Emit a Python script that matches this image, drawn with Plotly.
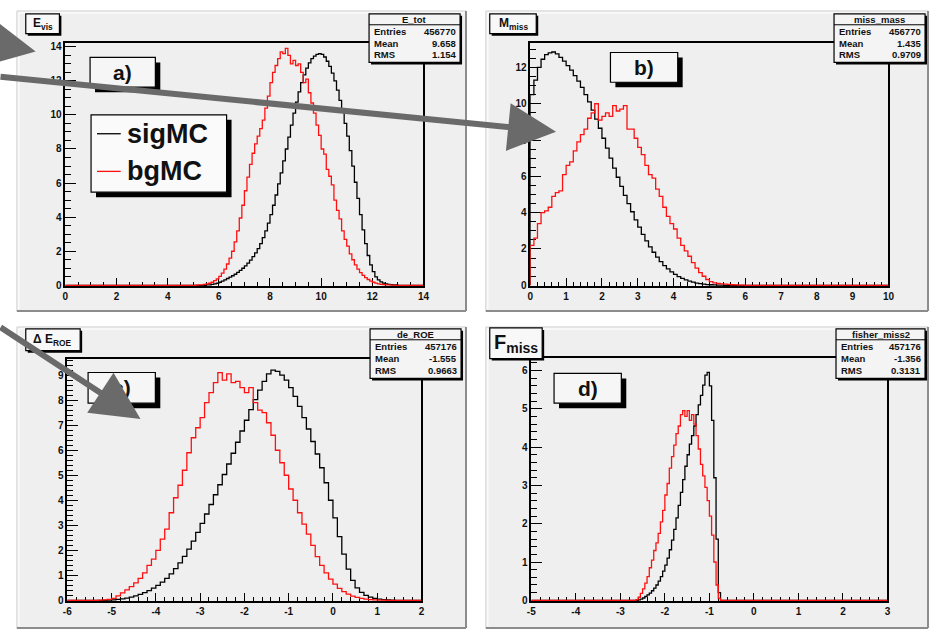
import plotly.graph_objects as go

W, H = 936, 639

# ---------------- data ----------------
# panel a) E_vis  (bins of 0.1 starting at 5.0)
a_start, a_width = 5.0, 0.1
a_sig = [0, 0, 0, 0, 0, 0.02, 0.03, 0.05, 0.08, 0.12,
         0.18, 0.25, 0.32, 0.40, 0.48, 0.56, 0.65, 0.76, 0.88, 1.0,
         1.14, 1.3, 1.48, 1.68, 1.9, 2.15, 2.45, 2.8, 3.2, 3.65,
         4.15, 4.7, 5.3, 5.95, 6.6, 7.3, 8.0, 8.7, 9.4, 10.1,
         10.75, 11.35, 11.9, 12.35, 12.75, 13.05, 13.3, 13.45, 13.55, 13.6,
         13.55, 13.4, 13.15, 12.85, 12.45, 12.0, 11.45, 10.85, 10.2, 9.5,
         8.75, 7.9, 7.0, 6.05, 5.1, 4.15, 3.25, 2.45, 1.75, 1.2,
         0.8, 0.5, 0.32, 0.2, 0.13, 0.09, 0.06, 0.04, 0.03, 0.02]
a_bg = [0, 0.01, 0.02, 0.03, 0.05, 0.08, 0.12, 0.18, 0.27, 0.38,
        0.52, 0.72, 0.95, 1.25, 1.6, 2.0, 2.55, 3.2, 3.95, 4.7,
        5.55, 6.35, 7.1, 7.75, 8.3, 8.75, 9.2, 9.7, 10.4, 11.1,
        11.9, 12.5, 12.9, 13.3, 13.7, 13.6, 13.9, 13.5, 13.0, 13.2,
        12.9, 13.0, 12.5, 11.9, 12.1, 11.3, 10.7, 10.1, 9.4, 8.8,
        8.0, 7.7, 6.8, 6.4, 5.9, 5.0, 4.4, 3.9, 3.2, 2.7,
        2.3, 1.85, 1.5, 1.2, 0.95, 0.75, 0.58, 0.45, 0.34, 0.25,
        0.18, 0.13, 0.09, 0.06, 0.04, 0.03, 0.02, 0.01, 0.01, 0]

# panel b) M_miss  (bins of 0.1 starting at 0)
b_start, b_width = 0.0, 0.1
b_sig = [10.5, 11.3, 12.0, 12.45, 12.7, 12.8, 12.85, 12.75, 12.55, 12.35,
         12.1, 11.85, 11.55, 11.25, 10.9, 10.5, 10.1, 9.65, 9.15, 8.65,
         8.1, 7.55, 7.0, 6.45, 5.95, 5.45, 4.95, 4.5, 4.05, 3.6,
         3.2, 2.8, 2.45, 2.12, 1.82, 1.55, 1.3, 1.08, 0.9, 0.74,
         0.6, 0.48, 0.38, 0.3, 0.23, 0.17, 0.12, 0.09, 0.06, 0.04,
         0.03, 0.02, 0.01, 0.01, 0, 0, 0, 0, 0, 0]
b_bg = [2.2, 2.6, 3.4, 4.0, 4.1, 4.3, 4.9, 5.1, 5.2, 6.1,
        6.6, 6.8, 7.4, 7.9, 8.3, 8.6, 9.2, 9.5, 10.0, 9.1,
        9.3, 9.5, 9.3, 9.9, 9.6, 9.7, 9.9, 8.6, 8.6, 8.1,
        7.6, 7.2, 6.6, 6.1, 5.9, 5.3, 4.9, 4.3, 3.8, 3.4,
        3.1, 2.6, 2.2, 1.9, 1.6, 1.25, 0.95, 0.7, 0.5, 0.32,
        0.2, 0.13, 0.1, 0.08, 0.06, 0.05, 0.03, 0.02, 0.01, 0.01]

# panel c) Delta E_ROE  (bins of 0.1 starting at -5.5)
c_start, c_width = -5.5, 0.1
c_sig = [0, 0, 0, 0, 0.01, 0.02, 0.04, 0.06, 0.09, 0.13,
         0.18, 0.24, 0.31, 0.39, 0.49, 0.6, 0.73, 0.88, 1.06, 1.27,
         1.5, 1.76, 2.05, 2.37, 2.72, 3.08, 3.45, 3.83, 4.22, 4.62,
         5.03, 5.45, 5.88, 6.32, 6.77, 7.2, 7.62, 8.02, 8.4, 8.75,
         9.05, 9.2, 9.15, 9.0, 8.8, 8.5, 8.15, 7.75, 7.3, 6.85,
         6.35, 5.85, 5.3, 4.7, 4.0, 3.3, 2.55, 1.85, 1.25, 0.8,
         0.5, 0.32, 0.2, 0.13, 0.08, 0.05, 0.03, 0.02, 0.01, 0]
c_bg = [0, 0, 0.01, 0.02, 0.04, 0.08, 0.18, 0.3, 0.42, 0.55,
        0.7, 0.88, 1.1, 1.4, 1.65, 2.0, 2.45, 2.85, 3.5, 4.1,
        4.6, 5.2, 5.9, 6.5, 6.9, 7.3, 7.9, 8.3, 8.7, 9.1,
        8.8, 9.05, 8.7, 8.75, 8.5, 8.3, 8.5, 7.9, 7.6, 7.5,
        7.1, 6.6, 6.0, 5.5, 5.0, 4.45, 4.0, 3.5, 3.05, 2.65,
        2.2, 1.75, 1.4, 1.1, 0.85, 0.65, 0.48, 0.35, 0.25, 0.17,
        0.12, 0.08, 0.05, 0.03, 0.02, 0.01, 0.01, 0, 0, 0]

# panel d) F_miss  (bins of 0.05 starting at -2.7)
d_start, d_width = -2.7, 0.05
d_sig = [0, 0, 0.01, 0.03, 0.06, 0.1, 0.14, 0.19, 0.25, 0.32,
         0.4, 0.5, 0.62, 0.76, 0.92, 1.1, 1.32, 1.57, 1.85, 2.15,
         2.48, 2.82, 3.15, 3.5, 3.8, 4.08, 4.3, 4.55, 4.85, 5.1,
         5.35, 5.62, 5.88, 5.95, 5.6, 4.7, 3.2, 1.6, 0.2]
d_bg = [0, 0.02, 0.08, 0.18, 0.3, 0.45, 0.62, 0.85, 1.05, 1.3,
        1.5, 1.75, 2.05, 2.35, 2.75, 3.05, 3.45, 3.75, 4.05, 4.35,
        4.55, 4.85, 4.95, 4.8, 4.95, 4.7, 4.85, 4.6, 4.3, 3.95,
        3.55, 3.25, 2.95, 2.6, 2.2, 1.7, 1.0, 0.4, 0.05]

# axis ranges and tick labels
x_ranges = [(0, 14), (0, 10), (-6, 2), (-5, 3)]
x_dticks = [2, 1, 1, 1]
x_minor = [0.5, 0.2, 0.2, 0.2]
c_xticks = [-6, -5, -4, -3, -2, -1, 0, 1, 2]
c_xlabels = ["-6", "-5", "-4", "-3", "-2", "-1", "0", "1", "2"]
d_xticks = [-5, -4, -3, -2, -1, 0, 1, 2, 3]
d_xlabels = ["-5", "-4", "-3", "-2", "-1", "0", "1", "2", "3"]
y_dticks = [2, 2, 1, 1]
y_minor = [0.5, 0.5, 0.2, 0.2]

# text content
panel_titles = ["E<sub>vis</sub>", "M<sub>miss</sub>", "Δ E<sub>ROE</sub>", "F<sub>miss</sub>"]
panel_labels = ["a)", "b)", "c)", "d)"]
stat_names = ["E_tot", "miss_mass", "de_ROE", "fisher_miss2"]
stat_entries = ["456770", "456770", "457176", "457176"]
stat_means = ["9.658", "1.435", "-1.555", "-1.356"]
stat_rms = ["1.154", "0.9709", "0.9663", "0.3131"]
legend_names = ["sigMC", "bgMC"]

# ---------------- geometry (pixels) ----------------
FONT = "Liberation Sans"
SIG_COLOR = "black"
BG_COLOR = "#ff1010"
PAD_COLOR = "#efefef"
ARROW_COLOR = "#6a6a6a"

def px(x):
    return x / W

def py(y):
    return 1 - y / H

frames = [
    dict(x0=62, x1=424, y0=287, ytop=42, ppu=17.2),
    dict(x0=532, x1=894, y0=287, ytop=42, ppu=18.33),
    dict(x0=64, x1=422, y0=605, ytop=361, ppu=25.25),
    dict(x0=533, x1=893, y0=605, ytop=360, ppu=38.67),
]
pads = [(13, 10, 467, 313), (487, 10, 934, 313), (13, 329, 467, 633), (487, 329, 934, 633)]
stat_boxes = [(369, 13, 461, 62), (839, 13, 931, 62), (370, 331, 462, 381), (841, 331, 931, 381)]
title_boxes = [(22, 13, 56, 33), (491, 13, 538, 33), (22, 331, 77, 353), (491, 330, 544, 361)]
title_sizes = [12, 12, 12, 20]
label_boxes = [(87, 57, 153, 87), (613, 52, 681, 82), (85, 375, 153, 406), (556, 376, 624, 406)]
legend_box = (88, 115, 225, 193)

fig = go.Figure()

def step_xy(start, width, vals, lo, hi):
    xs = [lo]
    ys = [0.0]
    for i, v in enumerate(vals):
        xs.append(round(start + i * width, 4))
        ys.append(v)
    xs.append(round(start + len(vals) * width, 4))
    ys.append(0.0)
    xs.append(hi)
    ys.append(0.0)
    return xs, ys

series = [(a_start, a_width, a_sig, a_bg), (b_start, b_width, b_sig, b_bg),
          (c_start, c_width, c_sig, c_bg), (d_start, d_width, d_sig, d_bg)]

for k, (st, wd, sig, bg) in enumerate(series):
    lo, hi = x_ranges[k]
    suffix = "" if k == 0 else str(k + 1)
    for vals, col, name in ((sig, SIG_COLOR, legend_names[0]), (bg, BG_COLOR, legend_names[1])):
        xs, ys = step_xy(st, wd, vals, lo, hi)
        fig.add_trace(go.Scatter(x=xs, y=ys, mode="lines", line=dict(color=col, width=1.3, shape="hv"),
                                 name=name, showlegend=False, hoverinfo="skip",
                                 xaxis="x" + suffix, yaxis="y" + suffix))

layout = dict(width=W, height=H, autosize=False, margin=dict(l=0, r=0, t=0, b=0),
              paper_bgcolor="white", plot_bgcolor="rgba(0,0,0,0)", showlegend=False)

tickfont = dict(family=FONT, size=10, color="#111", weight="bold")
for k, fr in enumerate(frames):
    suffix = "" if k == 0 else str(k + 1)
    lo, hi = x_ranges[k]
    ymax = (fr["y0"] - fr["ytop"]) / fr["ppu"]
    ymin = -1.0 / fr["ppu"]
    xa = dict(domain=[px(fr["x0"]), px(fr["x1"])], range=[lo, hi], showgrid=False, zeroline=False,
              showline=True, mirror=True, linecolor="black", linewidth=1.5,
              ticks="inside", ticklen=9, tickwidth=1, tickcolor="black",
              minor=dict(ticks="inside", ticklen=5, dtick=x_minor[k], tick0=lo, tickcolor="black"),
              tickfont=tickfont, layer="below traces", fixedrange=True,
              anchor="y" + suffix)
    if k == 2:
        xa.update(tickmode="array", tickvals=c_xticks, ticktext=c_xlabels)
    elif k == 3:
        xa.update(tickmode="array", tickvals=d_xticks, ticktext=d_xlabels)
    else:
        xa.update(dtick=x_dticks[k], tick0=0)
    ya = dict(domain=[py(fr["y0"] + 1), py(fr["ytop"])], range=[ymin, ymax], showgrid=False, zeroline=False,
              showline=True, mirror=True, linecolor="black", linewidth=1.5,
              ticks="inside", ticklen=11, tickwidth=1, tickcolor="black",
              dtick=y_dticks[k], tick0=0,
              minor=dict(ticks="inside", ticklen=6, dtick=y_minor[k], tick0=0, tickcolor="black"),
              tickfont=tickfont, layer="below traces", fixedrange=True,
              anchor="x" + suffix)
    layout["xaxis" + suffix] = xa
    layout["yaxis" + suffix] = ya

shapes = []

def rect(x0, y0, x1, y1, fill, line_color=None, lw=0, layer="above"):
    return dict(type="rect", xref="paper", yref="paper", x0=px(x0), x1=px(x1), y0=py(y1), y1=py(y0),
                fillcolor=fill, line=dict(color=line_color or fill, width=lw), layer=layer)

def seg(x0, y0, x1, y1, color, lw, layer="above"):
    return dict(type="line", xref="paper", yref="paper", x0=px(x0), x1=px(x1), y0=py(y0), y1=py(y1),
                line=dict(color=color, width=lw), layer=layer)

for (x0, y0, x1, y1) in pads:
    shapes.append(rect(x0, y0, x1, y1, PAD_COLOR, "#d4d4d4", 1, layer="below"))
    shapes.append(seg(x0, y1, x1, y1, "#8c8c8c", 2, layer="below"))
    shapes.append(seg(x1, y0, x1, y1, "#8c8c8c", 2, layer="below"))
    shapes.append(seg(x0 + 2, y0 + 2, x1 - 2, y0 + 2, "#fbfbfb", 1.5, layer="below"))
    shapes.append(seg(x0 + 2, y0 + 2, x0 + 2, y1 - 2, "#fbfbfb", 1.5, layer="below"))

def shadow_box(box, shadow, fill="#f7f7f7", lw=1.2):
    x0, y0, x1, y1 = box
    shapes.append(rect(x0 + shadow, y0 + shadow, x1 + shadow, y1 + shadow, "black"))
    shapes.append(rect(x0, y0, x1, y1, fill, "black", lw))

annotations = []

def text(x, y, s, size, xanchor="center", bold=True, color="#111"):
    annotations.append(dict(x=px(x), y=py(y), xref="paper", yref="paper", text=s, showarrow=False,
                            xanchor=xanchor, yanchor="middle",
                            font=dict(family=FONT, size=size, color=color,
                                      weight="bold" if bold else "normal")))

for k in range(4):
    x0, y0, x1, y1 = stat_boxes[k]
    shadow_box(stat_boxes[k], 2, fill="#f4f4f4")
    shapes.append(seg(x0, y0 + 11, x1, y0 + 11, "black", 1))
    text((x0 + x1) / 2, y0 + 5.5, stat_names[k], 9.5)
    rows = [("Entries", stat_entries[k]), ("Mean", stat_means[k]), ("RMS", stat_rms[k])]
    for r, (lab, val) in enumerate(rows):
        yy = y0 + 17.5 + r * 12
        text(x0 + 3, yy, lab, 9.5, xanchor="left")
        text(x1 - 2, yy, val, 9.5, xanchor="right")
    tx0, ty0, tx1, ty1 = title_boxes[k]
    shadow_box(title_boxes[k], 2, fill="#f8f8f8", lw=1.2)
    text((tx0 + tx1) / 2, (ty0 + ty1) / 2, panel_titles[k], title_sizes[k])
    lx0, ly0, lx1, ly1 = label_boxes[k]
    shadow_box(label_boxes[k], 5, fill="#f6f6f6", lw=1.2)
    text((lx0 + lx1) / 2, (ly0 + ly1) / 2, panel_labels[k], 21)

gx0, gy0, gx1, gy1 = legend_box
shadow_box(legend_box, 5, fill="#fafafa", lw=1.2)
for i, (name, col) in enumerate(zip(legend_names, [SIG_COLOR, BG_COLOR])):
    yy = 134 + i * 38
    shapes.append(seg(gx0 + 6, yy, gx0 + 30, yy, col, 1.3))
    text(gx0 + 34, yy, name, 27, xanchor="left")

# pointer arrows (tip, tail)
arrows = [((32, 51), (-140, 44)), ((558, 132), (-10, 77)), ((138, 422), (-10, 330))]
for (tip, tail) in arrows:
    annotations.append(dict(x=px(tip[0]), y=py(tip[1]), xref="paper", yref="paper",
                            ax=tail[0] - tip[0], ay=tail[1] - tip[1], axref="pixel", ayref="pixel",
                            text="", showarrow=True, arrowhead=2, arrowsize=1.6, arrowwidth=6,
                            arrowcolor=ARROW_COLOR, standoff=0, borderpad=0))

layout["shapes"] = shapes
layout["annotations"] = annotations
fig.update_layout(**layout)
fig.write_html("out.html", config={"displayModeBar": False},
               post_script="document.body.style.margin='0';document.body.style.padding='0';"
                           "document.body.style.overflow='hidden';")
